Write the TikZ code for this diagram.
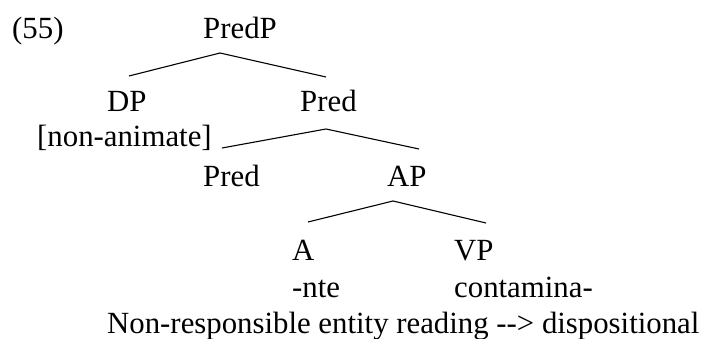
\documentclass[tikz,border=0pt]{standalone}
\usepackage{fontspec}
\setmainfont{Liberation Serif}
\begin{document}
\begin{tikzpicture}[x=1pt,y=-1pt,
  lbl/.style={anchor=base west,inner sep=0pt,font=\fontsize{30.8}{37}\selectfont},
  branch/.style={line width=1.1pt,line join=miter}]
\useasboundingbox (0,0) rectangle (725,339);
\node[lbl] (ex) at (12,39) {(55)};
\node[lbl] (predp) at (203,39) {PredP};
\node[lbl] (dp) at (107,112) {DP};
\node[lbl] (predbar) at (300,112) {Pred};
\node[lbl] (nonanim) at (37,146.5) {[non-animate]};
\node[lbl] (pred) at (203,187) {Pred};
\node[lbl] (ap) at (387,187) {AP};
\node[lbl] (a) at (292,260) {A};
\node[lbl] (vp) at (454,260) {VP};
\node[lbl] (nte) at (292,297) {-nte};
\node[lbl] (contam) at (454,297) {contamina-};
\node[lbl] (reading) at (107,333) {Non-responsible entity reading -{}-> dispositional};
% branch coordinates
\coordinate (t1) at (220,53);
\coordinate (l1) at (129,76);
\coordinate (r1) at (326,77);
\coordinate (t2) at (326,129);
\coordinate (l2) at (222,148);
\coordinate (r2) at (419,149);
\coordinate (t3) at (393,201);
\coordinate (l3) at (308,222);
\coordinate (r3) at (486,223);
\draw[branch] (l1) -- (t1) -- (r1);
\draw[branch] (l2) -- (t2) -- (r2);
\draw[branch] (l3) -- (t3) -- (r3);
\end{tikzpicture}
\end{document}
